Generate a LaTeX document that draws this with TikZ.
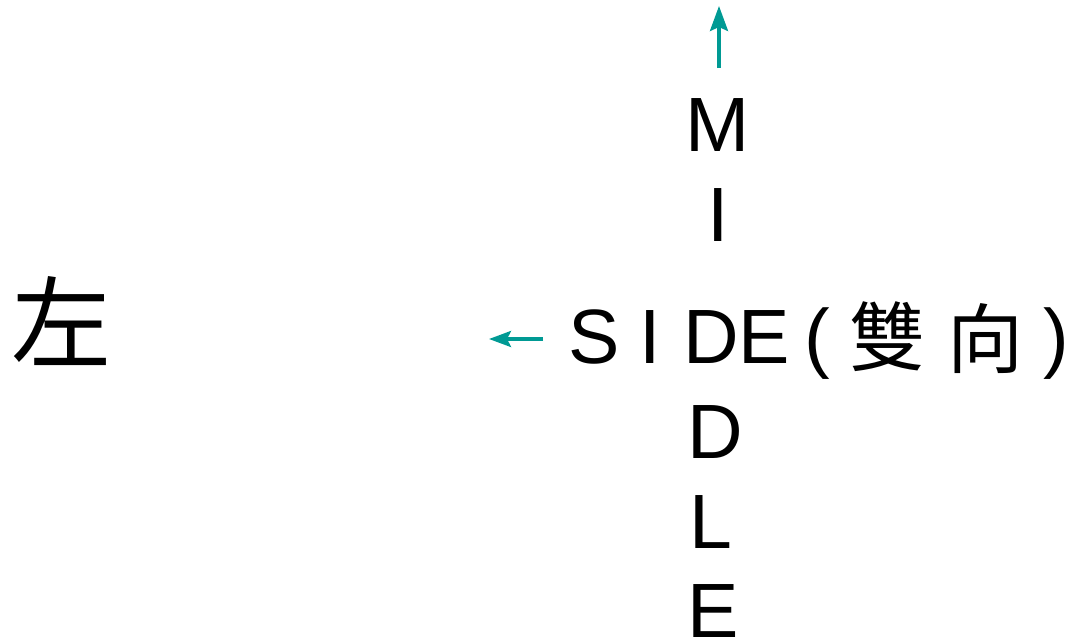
\documentclass[tikz,border=0pt]{standalone}
\usepackage{fontspec}
\setmainfont{Liberation Sans}
\newfontfamily\cjkfont{Noto Sans CJK TC}
\usetikzlibrary{arrows.meta}
\definecolor{arrowteal}{HTML}{009A94}
\tikzset{
  letter/.style={inner sep=0pt, anchor=base, font=\fontsize{77}{80}\selectfont},
  hanzi/.style={inner sep=0pt, anchor=center, font=\cjkfont\fontsize{76}{80}\selectfont},
  bigzi/.style={inner sep=0pt, anchor=center, font=\cjkfont\fontsize{100}{104}\selectfont},
  pointer/.style={draw=arrowteal, line width=3.4pt,
    -{Stealth[length=25pt, width=18pt, inset=4pt, fill=arrowteal]}},
}
\begin{document}
\begin{tikzpicture}[x=1pt, y=-1pt]
\useasboundingbox (0,0) rectangle (1074,640);

% left character
\node[bigzi] (zuo) at (61.5,321) {左};

% vertical word
\node[letter] (vM) at (718,151) {M};
\node[letter] (vI) at (718,241) {I};
\node[letter] (vD) at (715,458) {D};
\node[letter] (vL) at (711,548) {L};
\node[letter] (vE) at (713,637) {E};

% horizontal word
\node[letter] (hS) at (594,363) {S};
\node[letter] (hI) at (650,363) {I};
\node[letter] (hD) at (711,363) {D};
\node[letter] (hE) at (764,363) {E};
\node[letter] (lp) at (817,363) {(};
\node[hanzi] (shuang) at (887.5,337) {雙};
\node[hanzi] (xiang) at (985,339) {向};
\node[letter] (rp) at (1056,363) {)};

% arrows
\coordinate (upTail) at (719,68);
\coordinate (upTip) at (719,6);
\coordinate (leftTail) at (543,339);
\coordinate (leftTip) at (489,339);
\draw[pointer] (upTail) -- (upTip);
\draw[pointer, -{Stealth[length=22pt, width=16pt, inset=4pt, fill=arrowteal]}] (leftTail) -- (leftTip);
\end{tikzpicture}
\end{document}
